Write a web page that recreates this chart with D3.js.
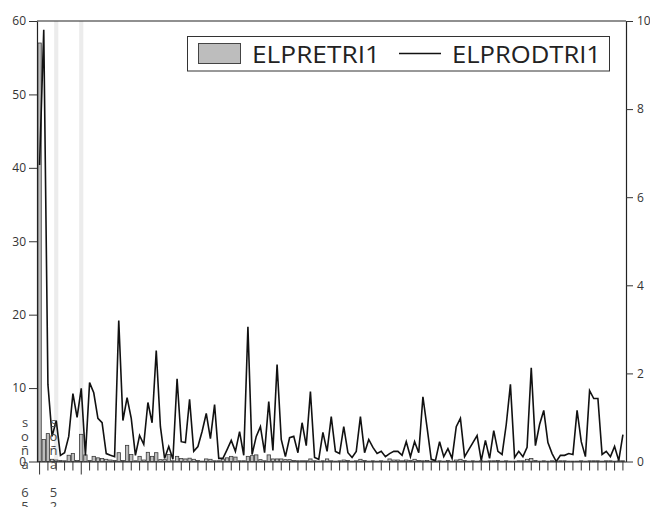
<!DOCTYPE html>
<html>
<head>
<meta charset="utf-8">
<script src="https://cdn.jsdelivr.net/npm/d3@7/dist/d3.min.js"></script>
<style>
  html, body { margin: 0; padding: 0; background: #fff; }
  svg { display: block; font-family: "Open Sans", "Noto Sans", sans-serif; }
</style>
</head>
<body>
<svg id="chart" width="650" height="507"></svg>
<script>
// Period index along the horizontal axis
const categories = d3.range(141);

// ELPRETRI1 (bars, left axis)
const elpretri1 = [
  57, 3.0, 3.8, 0.3, 0.2, 0.15, 0.1, 0.85, 1.1, 0.15,
  3.7, 0.9, 0.15, 0.7, 0.5, 0.4, 0.3, 0.2, 0.15, 1.2,
  0.15, 2.2, 0.95, 0.1, 0.7, 0.2, 1.25, 0.7, 1.2, 0.25,
  0.25, 0.95, 0.1, 0.7, 0.4, 0.35, 0.45, 0.3, 0.15, 0.05,
  0.35, 0.3, 0.1, 0.1, 0.35, 0.5, 0.7, 0.6, 0.1, 0.1,
  0.7, 0.8, 0.9, 0.25, 0.1, 0.9, 0.35, 0.35, 0.35, 0.25,
  0.25, 0.15, 0.1, 0.1, 0.1, 0.35, 0.1, 0.05, 0.1, 0.35,
  0.1, 0.05, 0.1, 0.2, 0.15, 0.05, 0.1, 0.3, 0.15, 0.05,
  0.1, 0.05, 0.1, 0.05, 0.35, 0.2, 0.2, 0.1, 0.2, 0.15,
  0.3, 0.15, 0.1, 0.15, 0.05, 0.05, 0.1, 0.05, 0.15, 0.05,
  0.2, 0.3, 0.15, 0.05, 0.1, 0.05, 0.1, 0.05, 0.1, 0.1,
  0.15, 0.05, 0.1, 0.05, 0.05, 0.1, 0.1, 0.3, 0.4, 0.15,
  0.05, 0.1, 0.05, 0.1, 0.05, 0.1, 0.1, 0.05, 0.05, 0.05,
  0.1, 0.05, 0.1, 0.1, 0.1, 0.05, 0.1, 0.1, 0.05, 0.1,
  0.1
];

// ELPRODTRI1 (line, right axis)
const elprodtri1 = [
  6.73, 9.80, 1.75, 0.57, 0.93, 0.14, 0.20, 0.57, 1.54, 1.00,
  1.66, 0.14, 1.79, 1.56, 0.98, 0.88, 0.18, 0.14, 0.11, 3.20,
  0.93, 1.45, 0.98, 0.14, 0.59, 0.39, 1.34, 0.88, 2.52, 0.79,
  0.07, 0.34, 0.05, 1.88, 0.45, 0.43, 1.41, 0.23, 0.34, 0.68,
  1.09, 0.52, 1.29, 0.07, 0.07, 0.27, 0.48, 0.23, 0.68, 0.14,
  3.06, 0.16, 0.57, 0.79, 0.20, 1.36, 0.25, 2.20, 0.50, 0.11,
  0.54, 0.57, 0.20, 0.88, 0.36, 1.59, 0.09, 0.05, 0.66, 0.23,
  1.02, 0.23, 0.18, 0.79, 0.20, 0.09, 0.23, 1.02, 0.20, 0.50,
  0.32, 0.18, 0.23, 0.11, 0.18, 0.23, 0.23, 0.14, 0.45, 0.11,
  0.45, 0.20, 1.47, 0.77, 0.05, 0.02, 0.45, 0.11, 0.29, 0.07,
  0.79, 0.98, 0.11, 0.27, 0.43, 0.59, 0.02, 0.48, 0.07, 0.70,
  0.23, 0.16, 0.84, 1.75, 0.09, 0.23, 0.11, 0.32, 2.13, 0.36,
  0.84, 1.16, 0.43, 0.18, 0.00, 0.14, 0.14, 0.18, 0.16, 1.16,
  0.45, 0.11, 1.61, 1.43, 1.43, 0.16, 0.23, 0.11, 0.34, 0.02,
  0.61
];

// Highlighted periods (light vertical bands)
const shadedCategories = [4, 10];
// Axis ticks
const leftTicks = [0, 10, 20, 30, 40, 50, 60];
const rightTicks = [0, 2, 4, 6, 8, 10];
const majorTickCats = [0, 10];
// Stacked vertical labels under the axis
const stackLabels = ["56 años", "25 años"];
const legendNames = ["ELPRETRI1", "ELPRODTRI1"];

const svg = d3.select("#chart");
const plot = { left: 37, right: 626, top: 21, bottom: 461.5 };

const x = d3.scaleBand()
  .domain(categories)
  .range([37.5, 625])
  .paddingInner(0.2)
  .paddingOuter(0.1);
const step = x.step();
const cx = i => x(i) + x.bandwidth() / 2;

const yL = d3.scaleLinear().domain([0, 60]).range([plot.bottom, plot.top]);
const yR = d3.scaleLinear().domain([0, 10]).range([plot.bottom, plot.top]);

// shaded bands
svg.append("g").selectAll("rect")
  .data(shadedCategories)
  .enter().append("rect")
  .attr("x", d => cx(d) - step / 2)
  .attr("width", step)
  .attr("y", plot.top)
  .attr("height", plot.bottom - plot.top)
  .attr("fill", "#ececec");

// bars
svg.append("g").selectAll("rect")
  .data(categories)
  .enter().append("rect")
  .attr("x", i => x(i))
  .attr("width", x.bandwidth())
  .attr("y", i => yL(elpretri1[i]))
  .attr("height", i => plot.bottom - yL(elpretri1[i]))
  .attr("fill", "#bdbdbd")
  .attr("stroke", "#3a3a3a")
  .attr("stroke-width", 0.8);

// line
const line = d3.line()
  .x(i => cx(i))
  .y(i => yR(elprodtri1[i]));
svg.append("path")
  .datum(categories)
  .attr("d", line)
  .attr("fill", "none")
  .attr("stroke", "#111")
  .attr("stroke-width", 1.6)
  .attr("stroke-linejoin", "miter");

// top frame line
svg.append("line")
  .attr("x1", plot.left).attr("x2", plot.right)
  .attr("y1", plot.top).attr("y2", plot.top)
  .attr("stroke", "#222").attr("stroke-width", 1.2);

function styleAxis(g) {
  g.selectAll(".domain").attr("stroke", "#222").attr("stroke-width", 1.2);
  g.selectAll(".tick line").attr("stroke", "#333");
  g.selectAll(".tick text").attr("fill", "#333").style("font-size", "12px")
    .style("font-family", "'Open Sans', sans-serif");
}

// left axis
svg.append("g")
  .attr("transform", `translate(${plot.left},0)`)
  .call(d3.axisLeft(yL).tickValues(leftTicks).tickSize(8).tickSizeOuter(0).tickPadding(3))
  .call(styleAxis);

// right axis
svg.append("g")
  .attr("transform", `translate(${plot.right},0)`)
  .call(d3.axisRight(yR).tickValues(rightTicks).tickSize(7).tickSizeOuter(0).tickPadding(4))
  .call(styleAxis);

// bottom axis
const xAxisG = svg.append("g")
  .attr("transform", `translate(0,${plot.bottom})`)
  .call(d3.axisBottom(x)
    .tickValues(categories.filter(i => i % 2 === 0))
    .tickFormat("")
    .tickSize(9)
    .tickSizeOuter(0));
xAxisG.select(".domain").attr("d", `M${plot.left},0.5H${plot.right}`);
xAxisG.call(styleAxis);
xAxisG.selectAll(".tick line")
  .attr("y2", d => majorTickCats.includes(d) ? 13 : 9);

// stacked vertical labels (characters placed bottom-up)
const stackX = [25, 53.5];
stackLabels.forEach((label, k) => {
  const chars = Array.from(label).reverse();
  const g = svg.append("g");
  chars.forEach((ch, j) => {
    if (ch === " ") return;
    g.append("text")
      .attr("x", stackX[k])
      .attr("y", 422 + j * 14)
      .attr("text-anchor", "middle")
      .attr("dominant-baseline", "central")
      .attr("fill", "#444")
      .style("font-size", "13px")
      .text(ch);
  });
});

// legend
const lg = svg.append("g");
lg.append("rect")
  .attr("x", 187.5).attr("y", 36.5).attr("width", 422).attr("height", 34.5)
  .attr("fill", "#fff").attr("stroke", "#333").attr("stroke-width", 1);
lg.append("rect")
  .attr("x", 198.5).attr("y", 43.5).attr("width", 42).attr("height", 20)
  .attr("fill", "#bdbdbd").attr("stroke", "#444").attr("stroke-width", 1);
lg.append("text")
  .attr("x", 252).attr("y", 63)
  .attr("fill", "#222")
  .style("font-size", "24px")
  .attr("textLength", 128).attr("lengthAdjust", "spacingAndGlyphs")
  .text(legendNames[0]);
lg.append("line")
  .attr("x1", 399).attr("x2", 441).attr("y1", 53.5).attr("y2", 53.5)
  .attr("stroke", "#111").attr("stroke-width", 1.4);
lg.append("text")
  .attr("x", 452).attr("y", 63)
  .attr("fill", "#222")
  .style("font-size", "24px")
  .attr("textLength", 149).attr("lengthAdjust", "spacingAndGlyphs")
  .text(legendNames[1]);
</script>
</body>
</html>
